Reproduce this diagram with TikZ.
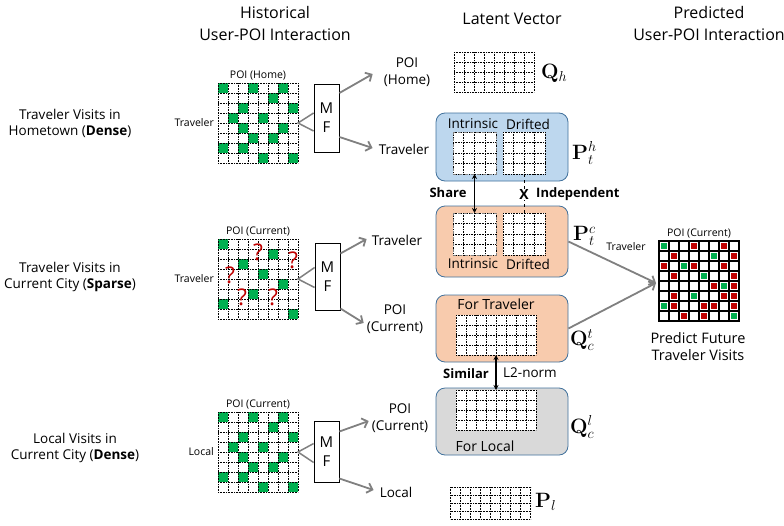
\documentclass[tikz,border=0pt]{standalone}
\usepackage[no-math]{fontspec}
\setmainfont{Open Sans}
\usetikzlibrary{calc, positioning, arrows.meta}
\usepackage{amsmath}
\usepackage{xcolor}

\definecolor{mgreen}{RGB}{0,176,80}
\definecolor{mred}{RGB}{192,0,0}
\definecolor{boxblue}{RGB}{189,215,238}
\definecolor{boxorange}{RGB}{248,203,173}
\definecolor{boxgray}{RGB}{217,217,217}
\definecolor{boxedge}{RGB}{65,113,156}
\definecolor{arrgray}{RGB}{128,128,128}
\colorlet{pG}{mgreen}
\colorlet{pR}{mred}
\colorlet{pW}{white}

% dotted cell grid over a matrix node: node, columns, rows
\newcommand{\dotgrid}[3]{%
  \foreach \i in {0,...,#2}
    \draw[gridline] ($(#1.north west)!{\i/#2}!(#1.north east)$) -- ($(#1.south west)!{\i/#2}!(#1.south east)$);
  \foreach \j in {0,...,#3}
    \draw[gridline] ($(#1.north west)!{\j/#3}!(#1.south west)$) -- ($(#1.north east)!{\j/#3}!(#1.south east)$);
}
% filled cells: node, cell size, colour, list of col/row
\newcommand{\markcells}[4]{%
  \foreach \c/\r in {#4}
    \fill[#3] ([shift={(\c*#2,\r*#2)}]#1.north west) rectangle ++(#2,#2);
}

\begin{document}
\begin{tikzpicture}[
		x=1pt, y=-1pt,
		title/.style={font=\fontsize{16}{22}\selectfont, align=center},
		scen/.style={font=\fontsize{13.5}{16}\selectfont, align=center},
		tiny/.style={font=\fontsize{10.5}{12}\selectfont, inner sep=1pt},
		lbl/.style={font=\fontsize{13.5}{17}\selectfont, align=center, inner sep=1pt},
		mat/.style={inner sep=0, outer sep=0, fill=white},
		mfbox/.style={draw, fill=white, line width=0.8, minimum width=25, inner sep=0, font=\fontsize{15}{19}\selectfont, align=center},
		vbox/.style={draw=boxedge, rounded corners=9, line width=0.8, minimum width=132, inner sep=0},
		gridline/.style={densely dotted, line width=0.6},
		feed/.style={draw=arrgray, line width=1.5},
		garrow/.style={draw=arrgray, line width=1.8, -{Straight Barb[length=5, width=10]}},
		link/.style={{Stealth[length=5,width=5]}-{Stealth[length=5,width=5]}, line width=1.1},
		sym/.style={font=\fontsize{22}{24}\selectfont, anchor=west, inner sep=0},
		boldtag/.style={font=\bfseries\fontsize{13}{14}\selectfont, inner sep=1pt},
		qmark/.style={text=mred, font=\fontsize{23}{23}\selectfont, inner sep=0}
		]
		\useasboundingbox (0,0) rectangle (784,525);
		
		% column titles
		\node[title] (histT) at (275,23) {Historical\\User-POI Interaction};
		\node[title] (latT) at (512,19) {Latent Vector};
		\node[title] (predT) at (709,23) {Predicted\\User-POI Interaction};
		
		% scenarios
		\node[scen] (homeS) at (70,123) {Traveler Visits in\\Hometown (\textbf{Dense})};
		\node[scen] (curS) at (70,277) {Traveler Visits in\\Current City (\textbf{Sparse})};
		\node[scen] (locS) at (75,448) {Local Visits in\\Current City (\textbf{Dense})};
		
		% interaction matrices
		\node[mat, minimum width=80, minimum height=80] (homeM) at (258,123) {};
		\node[mat, minimum width=80, minimum height=80] (curM) at (258,279) {};
		\node[mat, minimum width=80, minimum height=80] (locM) at (258,452) {};
		\node[tiny, above=2pt of homeM] (homeP) {POI (Home)};
		\node[tiny, above=2pt of curM] (curP) {POI (Current)};
		\node[tiny, above=2pt of locM] (locP) {POI (Current)};
		\node[tiny, left=3pt of homeM] (homeU) {Traveler};
		\node[tiny, left=3pt of curM] (curU) {Traveler};
		\node[tiny, left=3pt of locM] (locU) {Local};
		
		\markcells{homeM}{10}{mgreen}{0/0,3/0,6/0,5/1,2/2,7/2,1/3,4/3,2/4,6/4,3/5,5/5,0/6,2/6,4/7,7/7}
		\markcells{curM}{10}{mgreen}{0/0,5/1,2/2,4/3,6/4,3/5,0/6,7/7}
		\markcells{locM}{10}{mgreen}{0/0,3/0,6/0,5/1,2/2,7/2,1/3,4/3,2/4,6/4,3/5,5/5,0/6,2/6,4/7,7/7}
		\dotgrid{homeM}{8}{8}
		\dotgrid{curM}{8}{8}
		\dotgrid{locM}{8}{8}
		
		% unknown entries
		\node[qmark] (q1) at (258,252) {?};
		\node[qmark] (q2) at (293,260) {?};
		\node[qmark] (q3) at (230,275) {?};
		\node[qmark] (q4) at (242,297) {?};
		\node[qmark] (q5) at (273,297) {?};
		
		% factorisation
		\node[mfbox, minimum height=68] (mf1) at (326.5,118) {M\\F};
		\node[mfbox, minimum height=67] (mf2) at (327.5,276.5) {M\\F};
		\node[mfbox, minimum height=61] (mf3) at (326.5,451.5) {M\\F};
		
		\draw[feed] ([yshift=5]mf1.west) -- (homeM.east) -- ([yshift=-13]mf1.west);
		\draw[feed] ([yshift=9]mf2.west) -- (curM.east) -- ([yshift=-11]mf2.west);
		\draw[feed] ([yshift=8]mf3.west) -- (locM.east) -- ([yshift=-11]mf3.west);
		
		\node[lbl] (poiH) at (407,72) {POI\\(Home)};
		\node[lbl] (trvH) at (404,149) {Traveler};
		\node[lbl] (trvC) at (397,240) {Traveler};
		\node[lbl] (poiC) at (395,319) {POI\\(Current)};
		\node[lbl] (poiL) at (400,418) {POI\\(Current)};
		\node[lbl] (locL) at (396,492) {Local};
		
		\draw[garrow] ([yshift=25]mf1.east) -- ([xshift=-10,yshift=-2]poiH.west);
		\draw[garrow] ([yshift=-19]mf1.east) -- ([xshift=-5,yshift=1]trvH.west);
		\draw[garrow] ([yshift=23]mf2.east) -- ([xshift=-4,yshift=1]trvC.west);
		\draw[garrow] ([yshift=-32]mf2.east) -- ([xshift=-2,yshift=-4]poiC.west);
		\draw[garrow] ([yshift=20]mf3.east) -- ([xshift=-2,yshift=-3]poiL.west);
		\draw[garrow] ([yshift=-27]mf3.east) -- ([xshift=-5,yshift=2]locL.west);
		
		% latent vectors
		\node[vbox, fill=boxblue, minimum height=68] (pthB) at (502,147) {};
		\node[vbox, fill=boxorange, minimum height=71] (ptcB) at (502,241.5) {};
		\node[vbox, fill=boxorange, minimum height=67] (qctB) at (502,328.5) {};
		\node[vbox, fill=boxgray, minimum height=67] (qclB) at (502,421.5) {};
		
		\node[mat, minimum width=80, minimum height=40] (qhM) at (494,72) {};
		\node[mat, minimum width=80, minimum height=32] (plM) at (490.5,503) {};
		\node[mat, minimum width=43, minimum height=42] (pthI) at (474.5,153) {};
		\node[mat, minimum width=42, minimum height=42] (pthD) at (524,153) {};
		\node[mat, minimum width=43, minimum height=42] (ptcI) at (474.5,234) {};
		\node[mat, minimum width=42, minimum height=42] (ptcD) at (524,234) {};
		\node[mat, minimum width=80, minimum height=40] (qctM) at (496,335) {};
		\node[mat, minimum width=80, minimum height=40] (qclM) at (496,410) {};
		\foreach \m/\c/\r in {qhM/8/4, plM/8/4, pthI/4/4, pthD/4/4, ptcI/4/4, ptcD/4/4, qctM/8/4, qclM/8/4}
			\dotgrid{\m}{\c}{\r}
		\draw[arrgray, dashed, line width=1] (pthI.north west) rectangle (pthI.south east);
		\draw[arrgray, dashed, line width=1] (ptcI.north west) rectangle (ptcI.south east);
		
		\node[lbl] (inH) at (473,124) {Intrinsic};
		\node[lbl] (drH) at (528,124) {Drifted};
		\node[lbl] (inC) at (473,264) {Intrinsic};
		\node[lbl] (drC) at (528,264) {Drifted};
		\node[lbl, font=\fontsize{14}{16}\selectfont] (forT) at (496,304) {For Traveler};
		\node[lbl, font=\fontsize{14}{16}\selectfont] (forL) at (485,446) {For Local};
		
		\node[sym] (symQh) at (541,73) {$\mathbf{Q}_h$};
		\node[sym] (symPth) at (572,153) {$\mathbf{P}_t^h$};
		\node[sym] (symPtc) at (573,236) {$\mathbf{P}_t^c$};
		\node[sym] (symQct) at (570,340) {$\mathbf{Q}_c^t$};
		\node[sym] (symQcl) at (570,427) {$\mathbf{Q}_c^l$};
		\node[sym] (symPl) at (535,502) {$\mathbf{P}_l$};
		
		% relations between the vectors
		\draw[link] (pthI.south) -- (ptcI.north);
		\node[boldtag] (share) at (448,193) {Share};
		\draw[dashed, line width=0.8] (pthD.south) -- (ptcD.north);
		\node[boldtag, fill=white, font=\bfseries\fontsize{14}{14}\selectfont, inner sep=0.5pt] (crossX) at (524,194) {X};
		\node[boldtag, anchor=west] (indep) at (535,194) {Independent};
		\draw[link] (qctM.south) -- (qclM.north);
		\node[boldtag] (simil) at (466,374) {Similar};
		\node[lbl] (l2) at (530,373) {L2-norm};
		
		% predicted matrix
		\node[mat, minimum width=80, minimum height=80] (predM) at (699,281) {};
		\node[tiny, above=2pt of predM] (predP) {POI (Current)};
		\node[tiny] (predU) at (626,247) {Traveler};
		\fill[black] (predM.north west) rectangle (predM.south east);
		\foreach \rowcols [count=\r from 0] in {{G,W,W,R,W,W,R,W},{W,R,W,W,W,G,W,R},{R,W,G,R,W,W,R,W},{W,R,W,W,G,W,W,R},{W,W,W,W,W,R,G,R},{W,R,W,G,W,W,R,R},{G,R,W,W,R,R,W,R},{W,W,R,W,R,W,W,G}}
			\foreach \k [count=\c from 0] in \rowcols {
				\fill[white] ([shift={(\c*10+1,\r*10+1)}]predM.north west) rectangle ++(8,8);
				\fill[p\k] ([shift={(\c*10+1.8,\r*10+1.8)}]predM.north west) rectangle ++(6.4,6.4);
			}
		\draw[line width=1.4] (predM.north west) rectangle (predM.south east);
		\node[font=\fontsize{14.5}{17}\selectfont, align=center] (predTxt) at (698,347) {Predict Future\\Traveler Visits};
		
		\coordinate (tip) at ([xshift=-3,yshift=-2]predM.west);
		\draw[garrow] (ptcB.east) -- (tip);
		\draw[garrow] (qctB.east) -- (tip);
		
	\end{tikzpicture}
\end{document}
